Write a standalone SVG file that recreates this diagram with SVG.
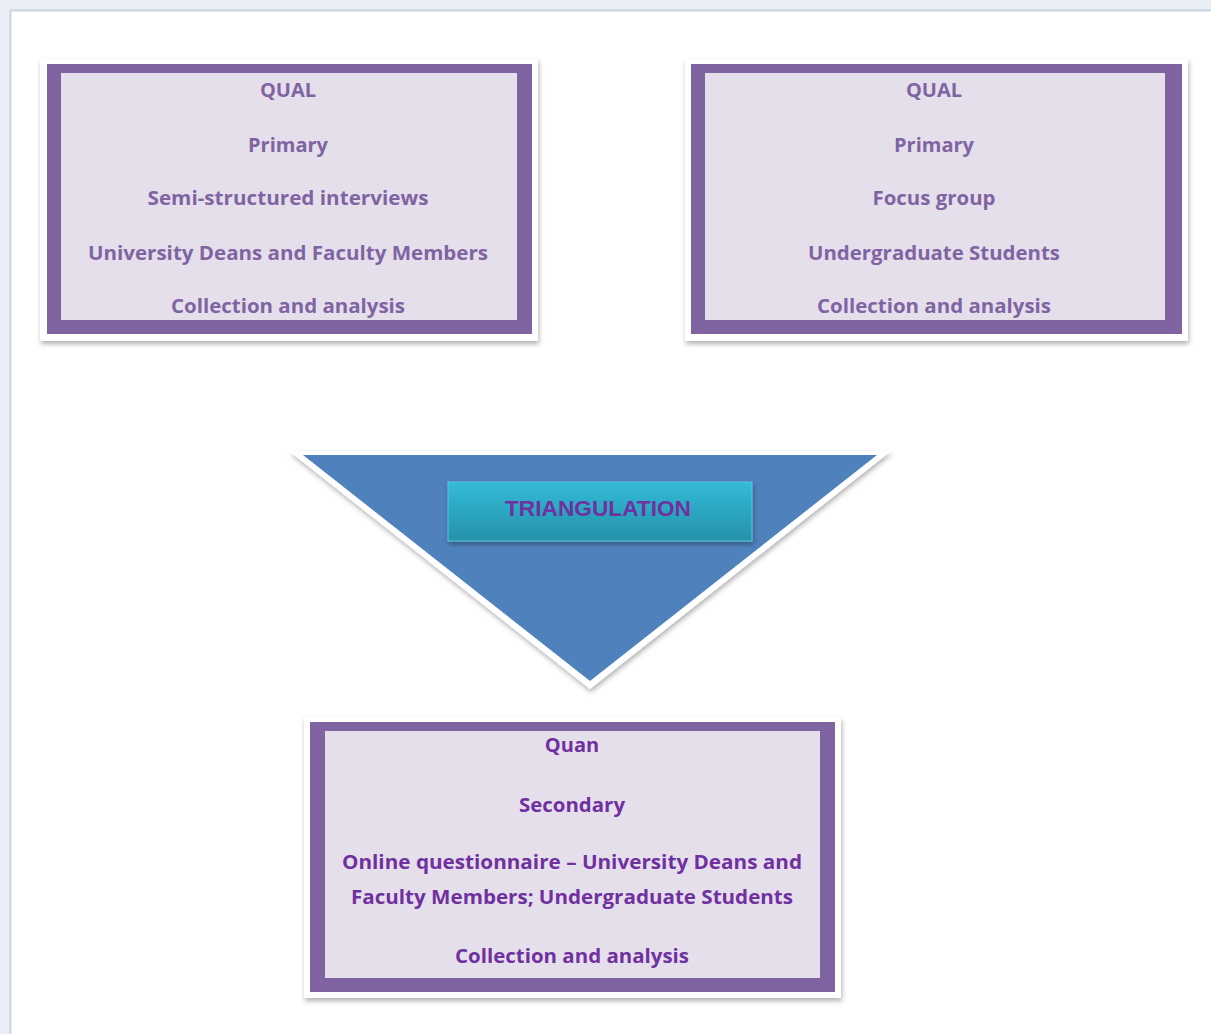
<svg xmlns="http://www.w3.org/2000/svg" width="1211" height="1034" viewBox="0 0 1211 1034">
<style>
.frame{fill:#ffffff}
.border{fill:#8064A2}
.inner{fill:#E5DFEC}
.t1{font-family:"Open Sans","Liberation Sans",sans-serif;font-weight:bold;font-size:20px;fill:#8064A2;text-anchor:middle}
.t2{font-family:"Open Sans","Liberation Sans",sans-serif;font-weight:bold;font-size:20px;fill:#7030A0;text-anchor:middle}
.tri{font-family:"Liberation Sans",Arial,sans-serif;font-weight:bold;font-size:22px;fill:#7030A0;text-anchor:middle}
</style>
<defs>
<filter id="sh" x="-5%" y="-5%" width="110%" height="115%">
<feDropShadow dx="1" dy="3" stdDeviation="2.5" flood-color="#000" flood-opacity="0.3"/>
</filter>
<linearGradient id="cy" x1="0" y1="0" x2="0" y2="1">
<stop offset="0" stop-color="#33BAD9"/>
<stop offset="1" stop-color="#2592A8"/>
</linearGradient>
</defs>
<rect x="0" y="0" width="1211" height="1034" fill="#e9eef4"/>
<rect x="10.5" y="10.5" width="1220" height="1040" fill="#ffffff" stroke="#c8d4e1" stroke-width="2"/>

<g id="connectors"></g>

<g id="qual1">
<rect class="frame" x="40" y="59" width="498" height="282" filter="url(#sh)"/>
<rect class="border" x="47" y="64" width="485" height="270"/>
<rect class="inner" x="61" y="73" width="456" height="247"/>
<text class="t1" x="288" y="97">QUAL</text>
<text class="t1" x="288" y="152">Primary</text>
<text class="t1" x="288" y="205" textLength="281" lengthAdjust="spacingAndGlyphs">Semi-structured interviews</text>
<text class="t1" x="288" y="260" textLength="400" lengthAdjust="spacingAndGlyphs">University Deans and Faculty Members</text>
<text class="t1" x="288" y="313" textLength="234" lengthAdjust="spacingAndGlyphs">Collection and analysis</text>
</g>

<g id="qual2">
<rect class="frame" x="685" y="59" width="503" height="282" filter="url(#sh)"/>
<rect class="border" x="691" y="64" width="491" height="270"/>
<rect class="inner" x="705" y="73" width="460" height="247"/>
<text class="t1" x="934" y="97">QUAL</text>
<text class="t1" x="934" y="152">Primary</text>
<text class="t1" x="934" y="205" textLength="123" lengthAdjust="spacingAndGlyphs">Focus group</text>
<text class="t1" x="934" y="260" textLength="252" lengthAdjust="spacingAndGlyphs">Undergraduate Students</text>
<text class="t1" x="934" y="313" textLength="234" lengthAdjust="spacingAndGlyphs">Collection and analysis</text>
</g>

<g id="triangle">
<polygon points="289,451 891,451 590,689" fill="#ffffff" filter="url(#sh)"/>
<polygon points="303,455 877,455 590,681" fill="#4F81BD"/>
</g>

<g id="triangulation">
<rect x="448" y="482" width="304" height="59" fill="url(#cy)" stroke="#5bc4dd" stroke-width="1" filter="url(#sh)"/>
<text class="tri" x="598" y="516" textLength="186" lengthAdjust="spacingAndGlyphs">TRIANGULATION</text>
</g>

<g id="quan">
<rect class="frame" x="304" y="717" width="537" height="281" filter="url(#sh)"/>
<rect class="border" x="310" y="722" width="525" height="270"/>
<rect class="inner" x="325" y="731" width="495" height="247"/>
<text class="t2" x="572" y="752">Quan</text>
<text class="t2" x="572" y="812" textLength="106" lengthAdjust="spacingAndGlyphs">Secondary</text>
<text class="t2" x="572" y="869" textLength="460" lengthAdjust="spacingAndGlyphs">Online questionnaire – University Deans and</text>
<text class="t2" x="572" y="904" textLength="442" lengthAdjust="spacingAndGlyphs">Faculty Members; Undergraduate Students</text>
<text class="t2" x="572" y="963" textLength="234" lengthAdjust="spacingAndGlyphs">Collection and analysis</text>
</g>
</svg>
